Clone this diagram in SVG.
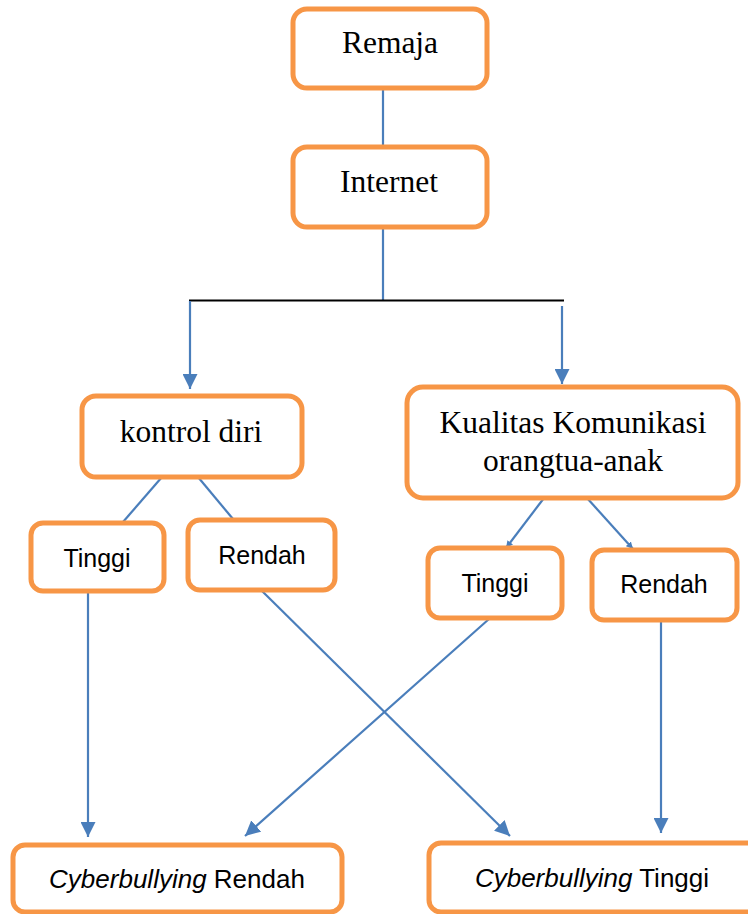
<svg xmlns="http://www.w3.org/2000/svg" width="748" height="914" viewBox="0 0 748 914">
<style>
.box{fill:#fff;stroke:#F79646;stroke-width:5}
.serif{font-family:"Liberation Serif","Times New Roman",serif;font-size:31.5px;fill:#000;text-anchor:middle}
.sans{font-family:"Liberation Sans",Arial,sans-serif;font-size:25px;fill:#000;text-anchor:middle}
.big{font-size:26px}
.con{stroke:#4A7EBB;stroke-width:2.2;fill:none}
</style>
<defs>
<marker id="ah" viewBox="0 0 10 10" refX="10" refY="5" markerUnits="userSpaceOnUse" markerWidth="15" markerHeight="15" orient="auto">
<path d="M0,0 L10,5 L0,10 z" fill="#4A7EBB"/>
</marker>
<marker id="ahs" viewBox="0 0 10 10" refX="10" refY="5" markerUnits="userSpaceOnUse" markerWidth="7" markerHeight="7" orient="auto">
<path d="M0,0 L10,5 L0,10 z" fill="#4A7EBB"/>
</marker>
</defs>
<g id="connectors">
<line class="con" x1="383" y1="88" x2="383" y2="146"/>
<line class="con" x1="383" y1="227" x2="383" y2="300"/>
<line x1="189" y1="300.5" x2="564" y2="300.5" stroke="#000" stroke-width="2.2"/>
<line class="con" x1="190" y1="301" x2="190" y2="389" marker-end="url(#ah)"/>
<line class="con" x1="562" y1="306" x2="562" y2="384" marker-end="url(#ah)"/>
<line class="con" x1="162" y1="477" x2="123" y2="522"/>
<line class="con" x1="198" y1="477" x2="233" y2="519"/>
<line class="con" x1="544" y1="498" x2="506" y2="548" marker-end="url(#ahs)"/>
<line class="con" x1="587" y1="498" x2="633" y2="549" marker-end="url(#ahs)"/>
<line class="con" x1="88" y1="591" x2="88" y2="837" marker-end="url(#ah)"/>
<line class="con" x1="261" y1="590" x2="510" y2="836" marker-end="url(#ah)"/>
<line class="con" x1="489" y1="619" x2="245" y2="836" marker-end="url(#ah)"/>
<line class="con" x1="661" y1="620" x2="661" y2="833" marker-end="url(#ah)"/>
</g>
<g id="remaja">
<rect class="box" x="293" y="9" width="194" height="79" rx="14"/>
<text class="serif" x="390" y="53">Remaja</text>
</g>
<g id="internet">
<rect class="box" x="293" y="147" width="194" height="80" rx="14"/>
<text class="serif" x="389" y="192">Internet</text>
</g>
<g id="kontrol-diri">
<rect class="box" x="82" y="396" width="220" height="81" rx="14"/>
<text class="serif" x="191" y="442">kontrol diri</text>
</g>
<g id="kualitas">
<rect class="box" x="407" y="387" width="331" height="111" rx="16"/>
<text class="serif" x="573" y="433">Kualitas Komunikasi</text>
<text class="serif" x="573" y="471">orangtua-anak</text>
</g>
<g id="tinggi-kiri">
<rect class="box" x="31" y="523" width="133" height="68" rx="12"/>
<text class="sans" x="97" y="567">Tinggi</text>
</g>
<g id="rendah-kiri">
<rect class="box" x="188" y="520" width="147" height="70" rx="12"/>
<text class="sans" x="262" y="564">Rendah</text>
</g>
<g id="tinggi-kanan">
<rect class="box" x="428" y="548" width="134" height="70" rx="12"/>
<text class="sans" x="495" y="592">Tinggi</text>
</g>
<g id="rendah-kanan">
<rect class="box" x="592" y="550" width="145" height="70" rx="12"/>
<text class="sans" x="664" y="593">Rendah</text>
</g>
<g id="cyber-rendah">
<rect class="box" x="13" y="845" width="329" height="67" rx="12"/>
<text class="sans big" x="177" y="888"><tspan font-style="italic">Cyberbullying</tspan> Rendah</text>
</g>
<g id="cyber-tinggi">
<rect class="box" x="429" y="843" width="330" height="69" rx="12"/>
<text class="sans big" x="592" y="887"><tspan font-style="italic">Cyberbullying</tspan> Tinggi</text>
</g>
</svg>
